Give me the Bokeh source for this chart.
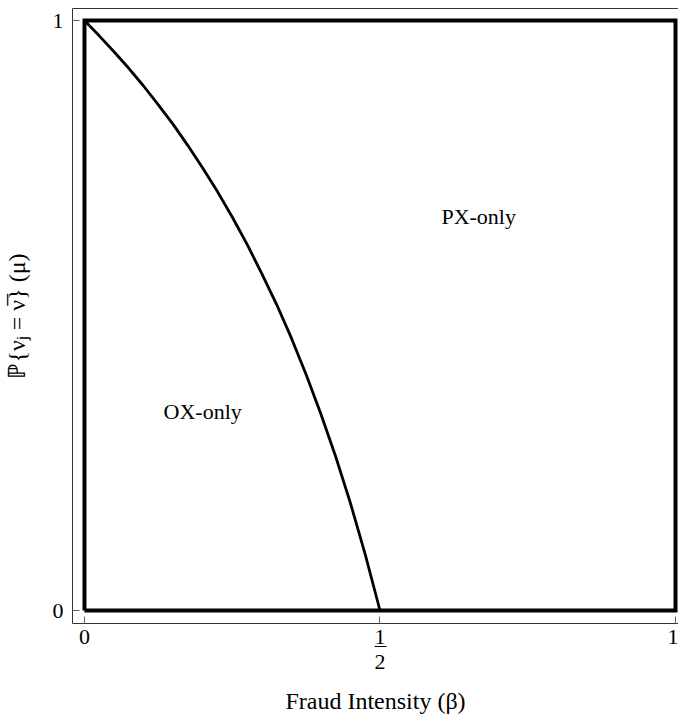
from bokeh.plotting import figure
from bokeh.models import FixedTicker, LinearAxis, Range1d
from bokeh.core.properties import value
from bokeh.embed import file_html
from bokeh.resources import INLINE

# --- data ---------------------------------------------------------------
beta = [0.0, 0.025, 0.05, 0.075, 0.1, 0.125, 0.15, 0.175, 0.2, 0.225, 0.25,
        0.275, 0.3, 0.325, 0.35, 0.375, 0.4, 0.425, 0.45, 0.475, 0.5]
mu = [1.0, 0.974, 0.947, 0.919, 0.889, 0.857, 0.824, 0.788, 0.75, 0.71, 0.667,
      0.621, 0.571, 0.519, 0.462, 0.4, 0.333, 0.261, 0.182, 0.095, 0.0]
region_x = [0, 1, 1, 0, 0]
region_y = [0, 0, 1, 1, 0]
x_ticks = [0, 0.5, 1]
x_tick_labels = {0: "0", 0.5: "1", 1: "1"}
half_ticks = [0.5]
half_den_labels = {0.5: "2"}
y_ticks = [0, 1]
y_tick_labels = {0: "0", 1: "1"}
region_names = ["OX-only", "PX-only"]
region_label_x = [0.2, 0.667]
region_label_y = [0.337, 0.668]

FONT = "Liberation Serif"
FS = "22px"
LFS = "24px"

p = figure(width=678, height=717, output_backend="svg", toolbar_location=None,
           x_range=Range1d(-0.02027, 1.00507), y_range=Range1d(-0.02203, 1.02034),
           min_border_left=71, min_border_right=0, min_border_top=8, min_border_bottom=94)
p.outline_line_color = None
p.grid.visible = False
p.background_fill_color = "white"
p.border_fill_color = "white"


def style(ax):
    ax.axis_line_color = "#333333"
    ax.axis_line_width = 1
    ax.major_tick_in = 7
    ax.major_tick_out = 0
    ax.major_tick_line_color = "#666666"
    ax.minor_tick_line_color = None
    ax.major_label_text_font = FONT
    ax.major_label_text_font_size = FS
    ax.major_label_text_color = "black"
    ax.axis_label_text_font = FONT
    ax.axis_label_text_font_size = LFS
    ax.axis_label_text_font_style = "normal"
    ax.axis_label_text_color = "black"


xa = p.xaxis[0]
style(xa)
xa.ticker = FixedTicker(ticks=x_ticks)
xa.major_label_overrides = x_tick_labels
xa.major_label_standoff = 6

# fraction bar: a short axis line under the numerator
xbar = LinearAxis(ticker=FixedTicker(ticks=[]), bounds=(0.49, 0.511),
                  axis_line_color="black", axis_line_width=1,
                  major_tick_line_color=None, minor_tick_line_color=None,
                  major_tick_in=0, major_tick_out=0,
                  major_label_text_font_size="0px", major_label_standoff=0)
p.add_layout(xbar, "below")

# lower x axis carrying the fraction denominator and the title
xb = LinearAxis(ticker=FixedTicker(ticks=half_ticks))
style(xb)
xb.axis_line_color = None
xb.major_tick_line_color = None
xb.major_tick_in = 0
xb.major_label_overrides = half_den_labels
xb.major_label_standoff = 8
xb.axis_label = "Fraud Intensity (β)"
xb.axis_label_standoff = 16
p.add_layout(xb, "below")

ya = p.yaxis[0]
style(ya)
ya.ticker = FixedTicker(ticks=y_ticks)
ya.major_label_overrides = y_tick_labels
ya.major_label_orientation = "horizontal"
ya.major_label_standoff = 9
ya.axis_label = "ℙ{νⱼ = ν̅} (μ)"
ya.axis_label_standoff = 20

top = LinearAxis(axis_line_color="#333333", major_tick_line_color=None,
                 minor_tick_line_color=None, major_label_text_font_size="0px",
                 major_tick_out=0, major_tick_in=0, major_label_standoff=0)
top.ticker = FixedTicker(ticks=[])
p.add_layout(top, "above")

# region box and boundary curve
p.line(region_x, region_y, line_color="black", line_width=4, line_join="miter")
p.line(beta, mu, line_color="black", line_width=2.8)

p.text(x=region_label_x, y=region_label_y, text=region_names,
       text_font=value(FONT), text_font_size=FS, text_color="black",
       text_align="center", text_baseline="middle")

open("out.html", "w").write(file_html(p, INLINE))
